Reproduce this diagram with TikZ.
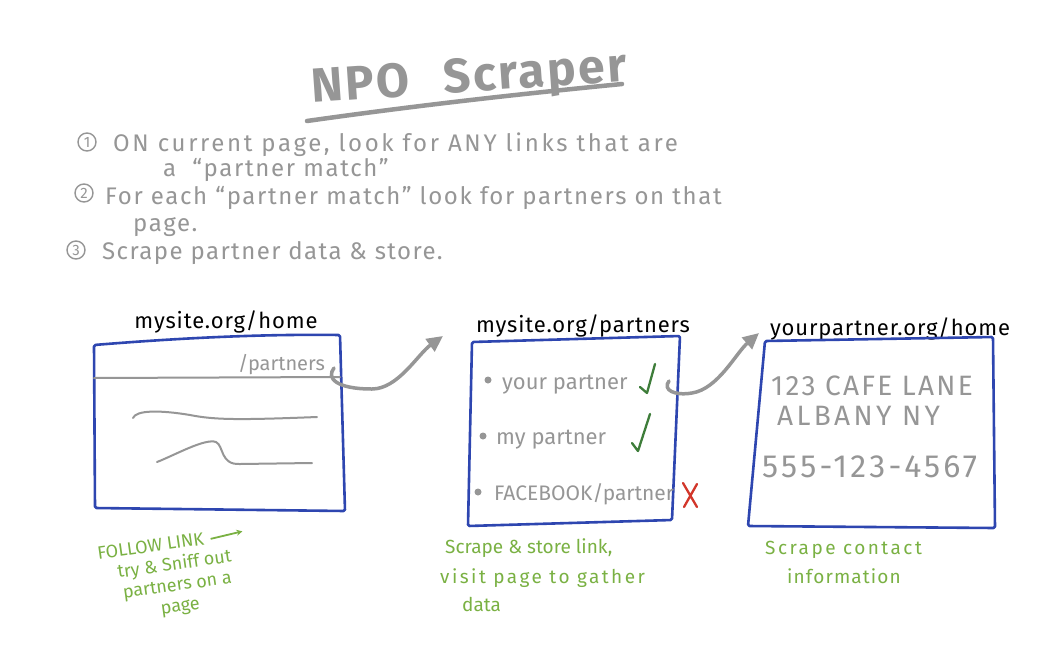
\documentclass[tikz,border=0pt]{standalone}
\usepackage{fontspec}
\setmainfont{Fira Sans}
\usetikzlibrary{arrows.meta}
\definecolor{pen}{HTML}{969696}
\definecolor{boxblue}{HTML}{2E46B0}
\definecolor{note}{HTML}{7AB143}
\definecolor{chk}{HTML}{3E7D3A}
\definecolor{xred}{HTML}{D2362A}
\tikzset{
  page/.style={draw=boxblue, line width=2.6pt, line join=round, rounded corners=1.5pt},
  url/.style={text=black, inner sep=0, font=\fontsize{22}{22}\selectfont\addfontfeature{LetterSpace=4}},
  graytxt/.style={text=pen, inner sep=0, anchor=west},
  steptxt/.style={graytxt, font=\fontsize{24}{24}\selectfont\addfontfeature{LetterSpace=7}},
  itemtxt/.style={graytxt, font=\fontsize{22}{22}\selectfont},
  addrtxt/.style={graytxt, font=\fontsize{28}{28}\selectfont\addfontfeature{LetterSpace=8}},
  pentrail/.style={draw=pen, line width=2pt, line cap=round},
  link/.style={draw=pen, line width=3.5pt, line cap=round, -{Triangle[length=16pt,width=15pt]}},
  notetxt/.style={text=note, inner sep=0, font=\fontsize{19}{19}\selectfont},
  num/.style={circle, draw=pen, line width=1.4pt, inner sep=0, minimum size=18pt, text=pen, font=\fontsize{15}{15}\selectfont},
  bullet/.style={circle, fill=pen, inner sep=0, minimum size=7pt},
  tick/.style={draw=chk, line width=2.3pt, line cap=round, line join=round},
}
\begin{document}
\begin{tikzpicture}[x=1pt, y=-1pt]
\path[use as bounding box, fill=white] (0,0) rectangle (1050,649);

% title
\node[text=pen, inner sep=0, rotate=4, font=\fontsize{48}{48}\selectfont\bfseries\addfontfeature{LetterSpace=5}] (title) at (469,80) {NPO\hspace{34pt}Scraper};
\draw[pentrail, line width=4.5pt] (307,121) .. controls (420,105) and (520,94) .. (622,84);

% steps
\node[num] (n1) at (87,142) {1};
\node[steptxt, font=\fontsize{24}{24}\selectfont\addfontfeature{LetterSpace=11}] (s1) at (113,145) {ON current page, look for ANY links that are};
\node[steptxt] (s1b) at (163,170) {a \ ``partner match''};
\node[num] (n2) at (84,193) {2};
\node[steptxt] (s2) at (105,198) {For each ``partner match'' look for partners on that};
\node[steptxt] (s2b) at (133,227) {page.};
\node[num] (n3) at (76,250) {3};
\node[steptxt, font=\fontsize{24}{24}\selectfont\addfontfeature{LetterSpace=6}] (s3) at (102,253) {Scrape partner data \& store.};

% page 1
\node[url] (u1) at (226,322) {mysite.org/home};
\draw[page] (94,345) .. controls (180,338) and (260,334) .. (340,335) -- (345,511) -- (95,508) -- cycle;
\draw[pentrail] (94,378) -- (340,377);
\node[graytxt, font=\fontsize{20}{20}\selectfont] (lnk) at (238,365) {/partners};
\draw[pentrail] (133,418) .. controls (136,410) and (160,410) .. (190,415) .. controls (215,420) and (240,420) .. (317,417);
\draw[pentrail] (157,462) .. controls (175,455) and (205,438) .. (216,442) .. controls (224,446) and (220,465) .. (240,464) -- (312,463);

% page 2
\node[url] (u2) at (583,326) {mysite.org/partners};
\draw[page] (472,342) -- (680,336) -- (672,520) -- (468,526) -- cycle;
\node[bullet] (b1) at (488,380) {};
\node[itemtxt] (i1) at (502,385) {your partner};
\draw[tick] (640,387) -- (647,393) -- (655,364);
\node[bullet] (b2) at (483,436) {};
\node[itemtxt] (i2) at (496,440) {my partner};
\draw[tick] (632,443) -- (638,451) -- (650,414);
\node[bullet] (b3) at (478,492) {};
\node[itemtxt, font=\fontsize{21}{21}\selectfont] (i3) at (494,494) {FACEBOOK/partner};
\draw[xred, line width=2.3pt, line cap=round] (683,483) -- (697,507) (697,484) -- (684,507);

% page 3
\node[url] (u3) at (890,329) {yourpartner.org/home};
\draw[page] (765,341) -- (993,337) -- (995,528) -- (748,526) -- cycle;
\node[addrtxt] (a1) at (771,386) {123 CAFE LANE};
\node[addrtxt, font=\fontsize{28}{28}\selectfont\addfontfeature{LetterSpace=12}] (a2) at (777,416) {ALBANY NY};
\node[addrtxt, font=\fontsize{32}{32}\selectfont\addfontfeature{LetterSpace=10}] (a3) at (762,467) {555-123-4567};

% connectors
\coordinate (p1out) at (334,368);
\coordinate (p2in) at (443,336);
\draw[link] (p1out) .. controls (326,378) and (336,389) .. (372,389) .. controls (398,389) and (418,354) .. (p2in);
\coordinate (p2out) at (669,381);
\coordinate (p3in) at (759,333);
\draw[link] (p2out) .. controls (662,390) and (675,396) .. (692,393) .. controls (718,389) and (736,353) .. (p3in);

% notes
\node[notetxt, font=\fontsize{18}{21}\selectfont, rotate=8, align=center] (m1) at (176,576) {FOLLOW LINK\hspace*{42pt}\\try \& Sniff out\\partners on a\\page};
\begin{scope}[shift={(m1.center)}, rotate=8]
  \coordinate (m1a) at (40,-32);
  \coordinate (m1b) at (72,-35);
\end{scope}
\draw[note, line width=1.8pt, line cap=round, -{Stealth[length=6pt,width=6pt]}] (m1a) -- (m1b);

\node[notetxt, anchor=west] (q1) at (445,548) {Scrape \& store link,};
\node[notetxt, anchor=west, font=\fontsize{19}{19}\selectfont\addfontfeature{LetterSpace=13}] (q2) at (440,578) {visit page to gather};
\node[notetxt, anchor=west] (q3) at (462,604) {data};

\node[notetxt, anchor=west, font=\fontsize{19}{19}\selectfont\addfontfeature{LetterSpace=13}] (r1) at (765,550) {Scrape contact};
\node[notetxt, anchor=west, font=\fontsize{19}{19}\selectfont\addfontfeature{LetterSpace=6}] (r2) at (787,576) {information};
\end{tikzpicture}
\end{document}
